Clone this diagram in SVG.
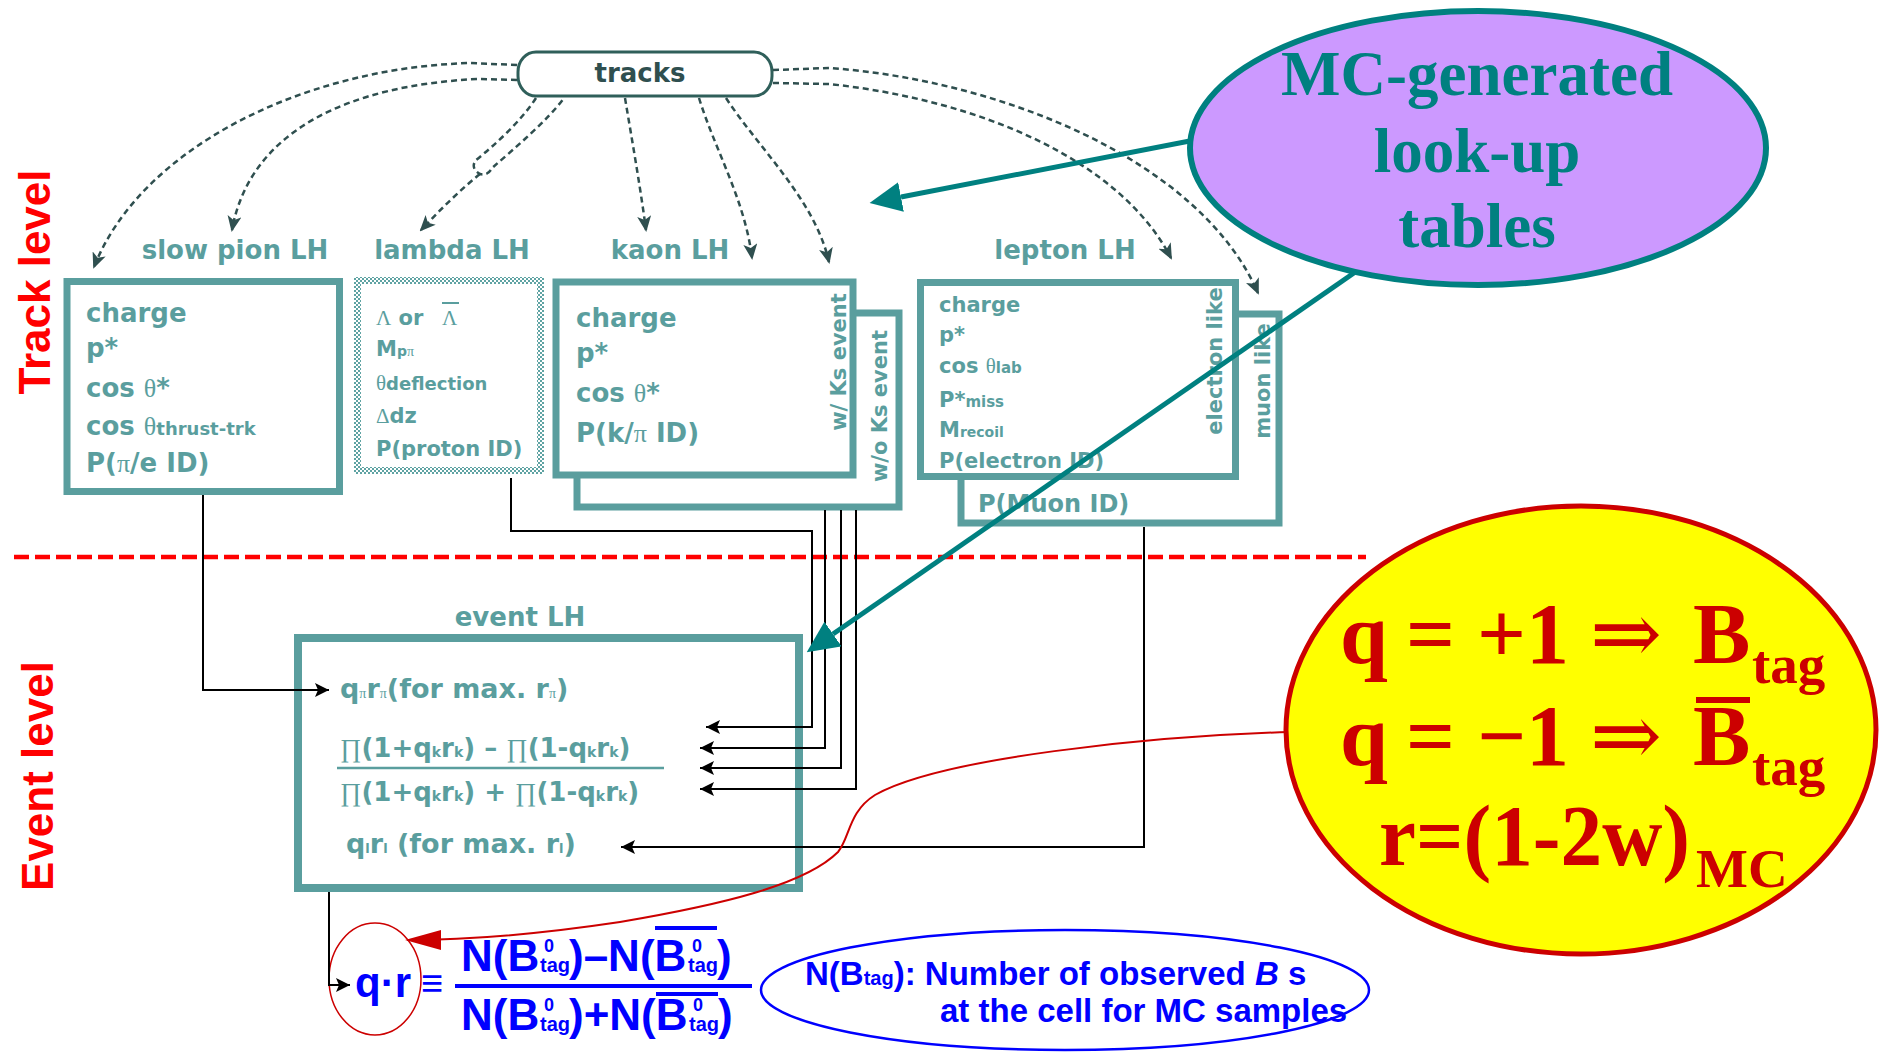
<svg xmlns="http://www.w3.org/2000/svg" width="1887" height="1052" viewBox="0 0 1887 1052">
<style>
.box{fill:#fff;stroke:#5a9e9e;stroke-width:7}
.t{font-family:"DejaVu Sans","Liberation Sans",sans-serif;font-weight:bold;fill:#5a9e9e}
.sym{font-family:"Liberation Serif","DejaVu Serif",serif;font-weight:normal}
.lvl{font-family:"Liberation Sans",Arial,sans-serif;font-weight:bold;font-size:44px;fill:#ff0000;text-anchor:middle}
.dash{fill:none;stroke:#2f4f4f;stroke-width:2.5;stroke-dasharray:6 4}
.wire{fill:none;stroke:#000;stroke-width:2}
.blue{font-family:"Liberation Sans",Arial,sans-serif;font-weight:bold;fill:#0000ff}
.red{font-family:"Liberation Serif","Times New Roman",serif;font-weight:bold;fill:#cc0000}
.arr{font-family:"DejaVu Serif",serif;font-weight:normal}
.mc{font-family:"Liberation Serif","Times New Roman",serif;font-weight:bold;fill:#008080;font-size:63px;text-anchor:middle}
.call{fill:none;stroke:#008080;stroke-width:5}
</style>
<defs>
<pattern id="chk" width="4" height="4" patternUnits="userSpaceOnUse"><rect width="4" height="4" fill="#fff"/><rect width="2" height="2" fill="#5fa3a3"/><rect x="2" y="2" width="2" height="2" fill="#5fa3a3"/></pattern>
<marker id="ad" markerUnits="userSpaceOnUse" viewBox="0 0 16 14" markerWidth="16" markerHeight="14" refX="14" refY="7" orient="auto"><path d="M0,0 L16,7 L0,14 L4,7 z" fill="#2f4f4f"/></marker>
<marker id="ab" markerUnits="userSpaceOnUse" viewBox="0 0 14 14" markerWidth="14" markerHeight="14" refX="14" refY="7" orient="auto"><path d="M0,0 L14,7 L0,14 L3,7 z" fill="#000"/></marker>
<marker id="at" markerUnits="userSpaceOnUse" viewBox="0 0 32 30" markerWidth="32" markerHeight="30" refX="0" refY="15" orient="auto"><path d="M0,0 L32,15 L0,30 z" fill="#008080"/></marker>
<marker id="ar" markerUnits="userSpaceOnUse" viewBox="0 0 36 20" markerWidth="36" markerHeight="20" refX="34" refY="10" orient="auto"><path d="M0,0 L36,10 L0,20 z" fill="#cc0000"/></marker>
</defs>
<rect width="1887" height="1052" fill="#fff"/>

<g id="level-divider">
<line x1="14" y1="557" x2="1366" y2="557" stroke="#ff0000" stroke-width="4.5" stroke-dasharray="15 6"/>
<text class="lvl" transform="translate(50,282) rotate(-90)">Track level</text>
<text class="lvl" transform="translate(53,776) rotate(-90)">Event level</text>
</g>

<g id="slow-pion-lh">
<text class="t" x="235" y="259" font-size="26" text-anchor="middle">slow pion LH</text>
<rect class="box" x="67" y="281.5" width="272.5" height="210"/>
<text class="t" font-size="26">
<tspan x="86" y="322">charge</tspan>
<tspan x="86" y="357">p*</tspan>
<tspan x="86" y="397">cos <tspan class="sym">θ</tspan>*</tspan>
<tspan x="86" y="435">cos <tspan class="sym">θ</tspan><tspan font-size="18">thrust-trk</tspan></tspan>
<tspan x="86" y="472">P(<tspan class="sym">π</tspan>/e  ID)</tspan>
</text>
</g>

<g id="lambda-lh">
<text class="t" x="452" y="259" font-size="26" text-anchor="middle">lambda LH</text>
<rect x="357.5" y="280.5" width="183" height="190" fill="#fff" stroke="url(#chk)" stroke-width="7"/>
<text class="t" font-size="21">
<tspan x="376" y="325"><tspan class="sym">Λ</tspan> or</tspan>
<tspan x="442" y="325" class="sym">Λ</tspan>
<tspan x="376" y="356">M<tspan font-size="14">p</tspan><tspan class="sym" font-size="14">π</tspan></tspan>
<tspan x="376" y="390"><tspan class="sym">θ</tspan><tspan font-size="18">deflection</tspan></tspan>
<tspan x="376" y="423"><tspan class="sym">Δ</tspan>dz</tspan>
<tspan x="376" y="456">P(proton ID)</tspan>
</text>
<line x1="442" y1="303" x2="459" y2="303" stroke="#5a9e9e" stroke-width="2"/>
</g>

<g id="kaon-lh">
<text class="t" x="670" y="259" font-size="26" text-anchor="middle">kaon LH</text>
<rect class="box" x="577" y="313" width="322" height="194"/>
<text class="t" font-size="21" text-anchor="middle" transform="translate(887,406) rotate(-90)">w/o Ks event</text>
<rect class="box" x="556" y="282" width="297" height="193"/>
<text class="t" font-size="21" text-anchor="middle" transform="translate(846,362) rotate(-90)">w/ Ks event</text>
<text class="t" font-size="26">
<tspan x="576" y="327">charge</tspan>
<tspan x="576" y="362">p*</tspan>
<tspan x="576" y="402">cos <tspan class="sym">θ</tspan>*</tspan>
<tspan x="576" y="442">P(k/<tspan class="sym">π</tspan> ID)</tspan>
</text>
</g>

<g id="lepton-lh">
<text class="t" x="1065" y="259" font-size="26" text-anchor="middle">lepton LH</text>
<rect class="box" x="961" y="314" width="318" height="209"/>
<text class="t" font-size="21" text-anchor="middle" transform="translate(1270,381) rotate(-90)">muon like</text>
<text class="t" x="978" y="512" font-size="24">P(Muon ID)</text>
<rect class="box" x="920.5" y="282.5" width="315" height="194"/>
<text class="t" font-size="21" text-anchor="middle" transform="translate(1222,361) rotate(-90)">electron like</text>
<text class="t" font-size="21">
<tspan x="939" y="312">charge</tspan>
<tspan x="939" y="342">p*</tspan>
<tspan x="939" y="373">cos <tspan class="sym">θ</tspan><tspan font-size="15">lab</tspan></tspan>
<tspan x="939" y="407">P*<tspan font-size="15">miss</tspan></tspan>
<tspan x="939" y="437">M<tspan font-size="14">recoil</tspan></tspan>
<tspan x="939" y="468">P(electron ID)</tspan>
</text>
</g>

<g id="event-lh">
<text class="t" x="520" y="626" font-size="26" text-anchor="middle">event LH</text>
<rect class="box" x="298" y="638" width="501" height="250" style="stroke-width:8"/>
<text class="t" font-size="27">
<tspan x="340" y="698">q<tspan class="sym" font-size="14">π</tspan>r<tspan class="sym" font-size="14">π</tspan>(for max. r<tspan class="sym" font-size="14">π</tspan>)</tspan>
<tspan x="346" y="853">q<tspan font-size="13">l</tspan>r<tspan font-size="13">l</tspan> (for max. r<tspan font-size="13">l</tspan>)</tspan>
</text>
<text class="t" font-size="26">
<tspan x="340" y="757"><tspan class="sym">∏</tspan>(1+q<tspan font-size="14">k</tspan>r<tspan font-size="14">k</tspan>) – <tspan class="sym">∏</tspan>(1-q<tspan font-size="14">k</tspan>r<tspan font-size="14">k</tspan>)</tspan>
<tspan x="340" y="801"><tspan class="sym">∏</tspan>(1+q<tspan font-size="14">k</tspan>r<tspan font-size="14">k</tspan>) + <tspan class="sym">∏</tspan>(1-q<tspan font-size="14">k</tspan>r<tspan font-size="14">k</tspan>)</tspan>
</text>
<line x1="337" y1="768" x2="664" y2="768" stroke="#5a9e9e" stroke-width="2.5"/>
</g>

<g id="tracks">
<rect x="518" y="52" width="254" height="44" rx="18" ry="20" fill="#fff" stroke="#2f5f5a" stroke-width="3"/>
<text x="640" y="82" font-family="DejaVu Sans, sans-serif" font-weight="bold" font-size="26" fill="#2f4f4f" text-anchor="middle">tracks</text>
</g>

<g id="formula">
<text class="blue" x="355" y="997" font-size="42">q·r</text>
<text class="blue" x="421" y="996" font-size="38">≡</text>
<text class="blue" font-size="44" y="971"><tspan x="461">N(B</tspan><tspan x="569">)–N(B</tspan><tspan x="717">)</tspan></text>
<text class="blue" font-size="20" y="972"><tspan x="540">tag</tspan><tspan x="688">tag</tspan></text>
<text class="blue" font-size="18" y="952"><tspan x="544">0</tspan><tspan x="692">0</tspan></text>
<rect x="655" y="926" width="62" height="4" fill="#0000ff"/>
<rect x="455" y="984" width="297" height="4" fill="#0000ff"/>
<text class="blue" font-size="44" y="1030"><tspan x="461">N(B</tspan><tspan x="569">)+N(B</tspan><tspan x="718">)</tspan></text>
<text class="blue" font-size="20" y="1031"><tspan x="540">tag</tspan><tspan x="689">tag</tspan></text>
<text class="blue" font-size="18" y="1011"><tspan x="544">0</tspan><tspan x="693">0</tspan></text>
<rect x="656" y="992" width="62" height="4" fill="#0000ff"/>
<ellipse cx="375" cy="979" rx="46" ry="56" fill="none" stroke="#cc0000" stroke-width="1.5"/>
</g>

<g id="note-ntag">
<ellipse cx="1065" cy="990" rx="304" ry="60" fill="none" stroke="#0000ff" stroke-width="2.5"/>
<text class="blue" font-size="33" x="805" y="985">N(B<tspan font-size="20">tag</tspan>): Number of observed <tspan font-style="italic">B</tspan> s</text>
<text class="blue" font-size="33" x="940" y="1022">at the cell for MC samples</text>
</g>

<g id="connectors">
<path class="dash" d="M517,65 L470,63 C300,68 140,150 94,267" marker-end="url(#ad)"/>
<path class="dash" d="M517,80 L478,79 C350,85 250,130 232,230" marker-end="url(#ad)"/>
<path class="dash" d="M536,98 C522,120 495,145 476,160 Q470,168 480,174 Q488,176 492,168 C515,148 548,120 564,98"/>
<path class="dash" d="M480,174 C460,190 440,210 421,230" marker-end="url(#ad)"/>
<path class="dash" d="M625,98 C632,140 640,185 646,230" marker-end="url(#ad)"/>
<path class="dash" d="M699,98 C715,150 745,200 752,258" marker-end="url(#ad)"/>
<path class="dash" d="M726,98 C760,150 815,200 829,262" marker-end="url(#ad)"/>
<path class="dash" d="M773,83 L829,84 C980,100 1120,160 1171,258" marker-end="url(#ad)"/>
<path class="dash" d="M773,70 L829,68 C1000,80 1200,160 1258,293" marker-end="url(#ad)"/>
<path class="wire" d="M203,495 V690 H329" marker-end="url(#ab)"/>
<path class="wire" d="M511,478 V531 H812 V727 H706" marker-end="url(#ab)"/>
<path class="wire" d="M825,510 V748 H700" marker-end="url(#ab)"/>
<path class="wire" d="M841,510 V768 H700" marker-end="url(#ab)"/>
<path class="wire" d="M856,510 V789 H700" marker-end="url(#ab)"/>
<path class="wire" d="M1144,527 V847 H621" marker-end="url(#ab)"/>
<path class="wire" d="M329,892 V985 H350" marker-end="url(#ab)"/>
<path class="call" d="M1200,139 L901,197" marker-end="url(#at)"/>
<path class="call" d="M1364,266 L833,634" marker-end="url(#at)"/>
<path d="M1290,732 C1150,736 940,758 875,795 C848,812 850,838 838,852 C805,885 720,905 620,922 C540,934 470,940 407,940" fill="none" stroke="#cc0000" stroke-width="2" marker-end="url(#ar)"/>
</g>

<g id="mc-lookup-tables">
<ellipse cx="1478" cy="148" rx="288" ry="137" fill="#cc99ff" stroke="#008080" stroke-width="6"/>
<text class="mc" x="1477" y="95">MC-generated</text>
<text class="mc" x="1477" y="172">look-up</text>
<text class="mc" x="1477" y="247">tables</text>
</g>

<g id="q-r-definition">
<ellipse cx="1581" cy="730" rx="295" ry="224" fill="#ffff00" stroke="#cc0000" stroke-width="5"/>
<text class="red" font-size="86">
<tspan x="1340" y="663">q</tspan><tspan x="1406" y="663">=</tspan><tspan x="1477" y="663">+1</tspan><tspan x="1590" y="663" class="arr">⇒</tspan><tspan x="1693" y="663">B</tspan>
<tspan x="1340" y="765">q</tspan><tspan x="1406" y="765">=</tspan><tspan x="1477" y="765">−1</tspan><tspan x="1590" y="765" class="arr">⇒</tspan><tspan x="1693" y="765">B</tspan>
</text>
<text class="red" font-size="55"><tspan x="1752" y="683">tag</tspan><tspan x="1752" y="785">tag</tspan><tspan x="1696" y="887">MC</tspan></text>
<rect x="1696" y="697" width="54" height="6" fill="#cc0000"/>
<text class="red" font-size="86" x="1379" y="865" textLength="311" lengthAdjust="spacingAndGlyphs">r=(1-2w)</text>
</g>
</svg>
